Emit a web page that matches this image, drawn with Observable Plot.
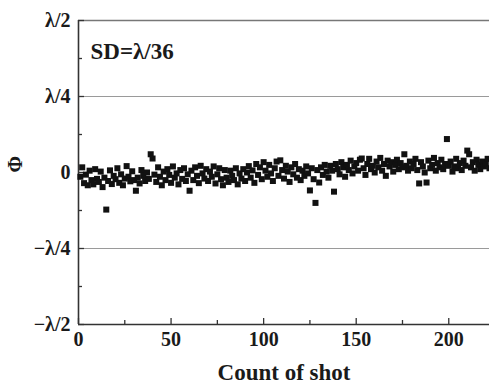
<!DOCTYPE html>
<html><head><meta charset="utf-8">
<script src="https://cdn.jsdelivr.net/npm/d3@7"></script>
<script src="https://cdn.jsdelivr.net/npm/@observablehq/plot@0.6"></script>
<style>body{margin:0;background:#fff} svg{display:block}</style>
</head><body><div id="chart"></div>
<script>
// Phase error per shot, in units of λ (shot n = index + 1)
const phiValues = [
  -0.014, 0.017, -0.035, -0.007, -0.042, 0.006, -0.025, -0.039, 0.011, -0.021,
  -0.031, 0.003, -0.048, -0.017, -0.122, -0.028, 0.007, -0.038, -0.011, -0.022,
  0.014, -0.034, -0.006, -0.042, -0.020, 0.021, -0.014, -0.029, 0.004, -0.025,
  -0.060, -0.017, -0.036, 0.008, -0.011, -0.028, 0.000, -0.021, 0.060, 0.046,
  -0.007, -0.031, 0.017, -0.014, -0.042, 0.003, -0.025, 0.011, -0.008, -0.034,
  0.020, -0.017, -0.003, -0.039, 0.008, -0.021, 0.014, -0.028, -0.006, -0.060,
  0.006, -0.025, 0.017, -0.011, -0.035, 0.022, -0.003, -0.020, 0.011, -0.028,
  0.003, -0.014, 0.020, -0.036, -0.006, 0.014, -0.022, -0.042, 0.008, -0.017,
  -0.031, 0.006, -0.011, -0.025, 0.014, -0.039, -0.003, -0.020, 0.011, -0.028,
  0.000, 0.021, -0.017, 0.007, -0.034, 0.028, -0.008, 0.017, -0.022, 0.034,
  0.006, -0.014, 0.025, -0.003, -0.028, 0.014, 0.036, -0.011, 0.040, 0.008,
  -0.020, 0.022, 0.003, -0.031, 0.017, -0.006, 0.028, -0.017, 0.011, -0.025,
  0.006, -0.011, 0.020, -0.003, -0.059, 0.014, -0.022, -0.100, 0.008, -0.033,
  0.017, -0.008, 0.025, 0.003, -0.017, 0.022, 0.006, -0.063, 0.028, 0.011,
  -0.006, 0.034, 0.017, -0.014, 0.025, 0.008, 0.039, -0.003, 0.020, 0.031,
  0.006, 0.042, 0.046, 0.014, -0.008, 0.028, 0.045, 0.011, 0.022, 0.000,
  0.036, 0.017, 0.048, 0.006, 0.028, -0.011, 0.039, 0.020, 0.034, 0.003,
  0.025, 0.042, 0.011, 0.031, 0.017, 0.060, 0.022, 0.006, 0.036, 0.014,
  0.028, 0.045, 0.008, -0.036, 0.034, 0.020, 0.000, -0.033, 0.039, 0.014,
  0.025, 0.048, 0.006, 0.031, 0.017, 0.042, 0.011, 0.028, 0.110, 0.022,
  0.036, 0.003, 0.020, 0.045, 0.014, 0.031, 0.008, 0.039, 0.022, 0.072,
  0.060, 0.017, 0.034, 0.006, 0.042, 0.025, 0.011, 0.036, 0.020, 0.028,
  0.045, 0.014
];
const xTickValues = [0, 50, 100, 150, 200];
const xMinorTicks = [25, 75, 125, 175];
const yTickValues = [-0.5, -0.25, 0, 0.25, 0.5];
const yTickLabels = ["\u2212\u03bb/2", "\u2212\u03bb/4", "0", "\u03bb/4", "\u03bb/2"];
const yMinorTicks = [-0.375, -0.125, 0.125, 0.375];
const gridValues = [-0.25, 0.25];
const xLabel = "Count of shot";
const yLabel = "\u03a6";
const annotation = "SD=\u03bb/36";

const data = phiValues.map((v, i) => ({shot: i + 1, phi: v}));

const W = 489, H = 390, mL = 78, mR = 0, mT = 20, mB = 66;
const xDomain = [0, 222], yDomain = [-0.5, 0.5];
const pxX = (W - mL - mR) / (xDomain[1] - xDomain[0]);
const pxY = (H - mT - mB) / (yDomain[1] - yDomain[0]);
const yLen = px => px / pxY;
const xLen = px => px / pxX;

const font = "'Liberation Serif', 'Times New Roman', Times, serif";
const ink = "#1a1a1a";

const chart = Plot.plot({
  width: W, height: H,
  marginLeft: mL, marginRight: mR, marginTop: mT, marginBottom: mB,
  style: {fontFamily: font, fontWeight: "bold", fontSize: "20px", color: ink, background: "#fff"},
  x: {domain: xDomain},
  y: {domain: yDomain},
  marks: [
    Plot.ruleY(gridValues, {y: d => d, stroke: "#9a9a9a", strokeWidth: 1}),
    Plot.ruleY([0.5], {y: d => d, stroke: "#777", strokeWidth: 1.6}),
    Plot.axisX({ticks: xTickValues, tickSize: 0, tickPadding: 7, label: null, fontSize: 20, fontWeight: "bold", fill: ink}),
    Plot.axisY({ticks: yTickValues, tickFormat: d => yTickLabels[yTickValues.indexOf(d)], tickSize: 0, tickPadding: 8, label: null, fontSize: 20, fontWeight: "bold", fill: ink}),
    // inward ticks on the bottom axis
    Plot.ruleX(xTickValues, {x: d => d, y1: yDomain[0], y2: yDomain[0] + yLen(6), stroke: "#333", strokeWidth: 1.3}),
    Plot.ruleX(xMinorTicks, {x: d => d, y1: yDomain[0], y2: yDomain[0] + yLen(4), stroke: "#333", strokeWidth: 1.3}),
    // inward ticks on the left axis
    Plot.ruleY(yTickValues, {y: d => d, x1: xDomain[0], x2: xDomain[0] + xLen(6), stroke: "#333", strokeWidth: 1.3}),
    Plot.ruleY(yMinorTicks, {y: d => d, x1: xDomain[0], x2: xDomain[0] + xLen(4), stroke: "#333", strokeWidth: 1.3}),
    Plot.ruleX([xDomain[0]], {x: d => d, stroke: "#333", strokeWidth: 1.6}),
    Plot.ruleY([yDomain[0]], {y: d => d, stroke: "#333", strokeWidth: 1.6}),
    Plot.dot(data, {x: "shot", y: "phi", symbol: "square", r: 3.4, fill: "#111", stroke: "none"}),
    Plot.text([annotation], {frameAnchor: "top-left", dx: 12, dy: 22, textAnchor: "start", fontSize: 23, fontWeight: "bold", fill: ink}),
    Plot.text([xLabel], {frameAnchor: "bottom", dy: 55, fontSize: 23, fontWeight: "bold", fill: ink}),
    Plot.text([yLabel], {frameAnchor: "left", dx: -63, rotate: -90, fontSize: 20, fontWeight: "bold", fill: ink})
  ]
});
document.getElementById("chart").appendChild(chart);
</script>
</body></html>
